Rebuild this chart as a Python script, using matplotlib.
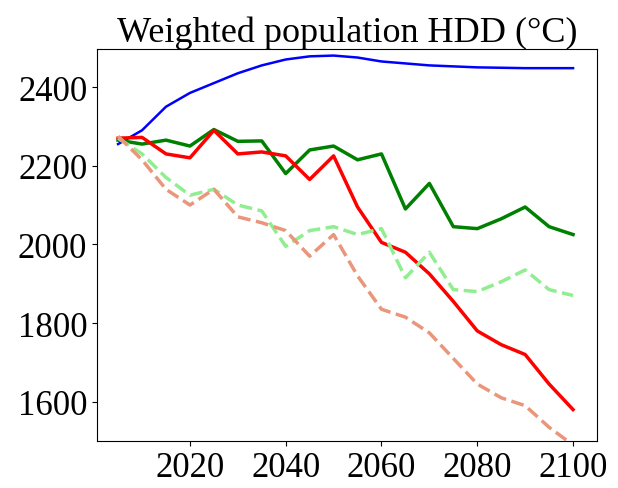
import matplotlib
matplotlib.use('Agg')
from matplotlib import pyplot as plt

years = list(range(2005, 2101, 5))
blue_years = [2005, 2010, 2015, 2020, 2025, 2030, 2035, 2040, 2045, 2050, 2055, 2060, 2070, 2080, 2090, 2100]
blue = [2255, 2290, 2350, 2385, 2410, 2435, 2455, 2470, 2478, 2480, 2475, 2465, 2455, 2450, 2448, 2448]
green = [2265, 2255, 2265, 2250, 2292, 2262, 2263, 2180, 2240, 2250, 2215, 2230, 2090, 2155, 2045, 2040, 2065, 2095, 2045, 2025]
red = [2270, 2272, 2230, 2220, 2290, 2230, 2235, 2225, 2165, 2225, 2095, 2005, 1980, 1925, 1855, 1780, 1745, 1720, 1645, 1580]
lgreen = [2270, 2230, 2170, 2125, 2140, 2100, 2085, 1995, 2035, 2045, 2025, 2040, 1915, 1980, 1885, 1880, 1905, 1935, 1885, 1870]
salmon = [2275, 2215, 2140, 2100, 2140, 2070, 2055, 2035, 1970, 2025, 1920, 1835, 1815, 1775, 1710, 1645, 1610, 1590, 1535, 1490]

plt.rcParams['font.family'] = ['Liberation Serif', 'DejaVu Serif']
fig, ax = plt.subplots(figsize=(6.18, 4.89), dpi=100)
fig.subplots_adjust(left=0.157, right=0.966, top=0.898, bottom=0.096)

ax.plot(blue_years, blue, color='blue', lw=1.8)
ax.plot(years, green, color='green', lw=2.5)
ax.plot(years, red, color='red', lw=2.5)
ax.plot(years, lgreen, color='lightgreen', lw=2.5, ls='--')
ax.plot(years, salmon, color='darksalmon', lw=2.5, ls='--')

ax.set_xlim(2000.6, 2105)
ax.set_ylim(1500, 2497)
ax.set_xticks([2020, 2040, 2060, 2080, 2100])
ax.set_yticks([1600, 1800, 2000, 2200, 2400])
ax.tick_params(labelsize=25)
ax.set_title('Weighted population HDD (°C)', fontsize=26, pad=4)
plt.savefig('out.png', dpi=100)
